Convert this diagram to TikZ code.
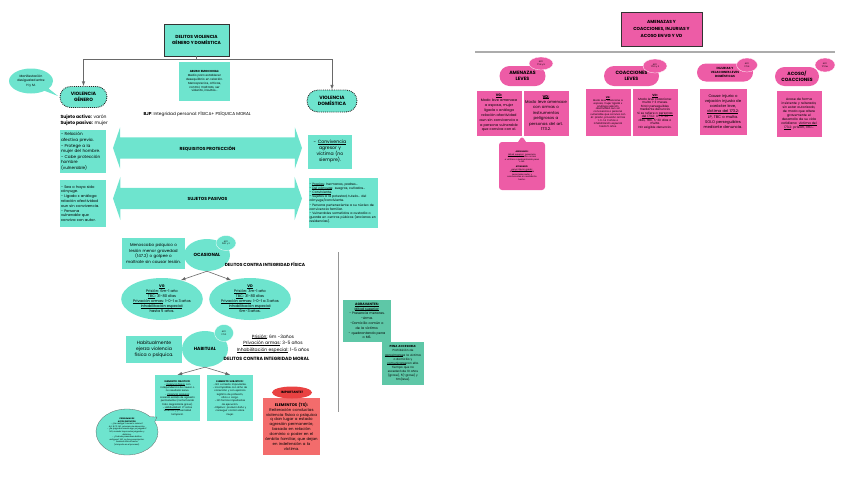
\documentclass[tikz,border=0pt]{standalone}
\usepackage{fontspec}
\setmainfont{Poppins}
\usetikzlibrary{shapes.geometric,shapes.arrows,shapes.callouts,shapes.misc,shadows}
\definecolor{turquesa}{RGB}{110,228,206}
\definecolor{verdeosc}{RGB}{94,199,167}
\definecolor{rosa}{RGB}{237,92,166}
\definecolor{rojo}{RGB}{243,108,108}
\definecolor{rojoosc}{RGB}{233,66,66}
\definecolor{gris}{RGB}{105,105,105}
\newcommand{\tam}[2]{\fontsize{#1}{#2}\selectfont}
% subrayado que funciona con letra muy pequena
\newcommand{\subr}[1]{\leavevmode\setbox0\hbox{#1}\rlap{\rule[-0.22ex]{\wd0}{0.06em}}\box0}

\begin{document}
\begin{tikzpicture}[x=1pt, y=-1pt,
  caja/.style={fill=turquesa, inner sep=1pt, align=center, text=black},
  cajarosa/.style={fill=rosa, draw=white, line width=0.3pt, inner sep=1pt, align=center, text=black},
  titulo/.style={draw=black!80, line width=0.9pt, align=center, font=\bfseries\tam{4.4}{6.7},
    drop shadow={shadow xshift=0.8pt, shadow yshift=-0.8pt, fill=black!80, opacity=1}},
  pastilla/.style={rounded rectangle, align=center, inner sep=0pt, font=\bfseries\tam{4.7}{6.2}},
  punteada/.style={pastilla, fill=turquesa, draw=black!85, line width=0.9pt, densely dotted},
  ovalo/.style={ellipse, fill=turquesa, inner sep=0pt, align=center},
  art/.style={ellipse, draw=white, line width=0.3pt, inner sep=0pt, align=center, font=\tam{2.1}{2.6}},
  flecha/.style={double arrow, fill=turquesa, double arrow tip angle=142,
    minimum height=189pt, inner ysep=8.5pt, text height=4pt, text depth=0pt, font=\bfseries\tam{4.4}{5}},
  flujo/.style={->, >=latex, gris, line width=0.6pt}]
\useasboundingbox (0,0) rectangle (848,496);

% violencia de genero y domestica
\node[caja, titulo, minimum width=65pt, minimum height=32pt] (delitos) at (196.5,40) {DELITOS VIOLENCIA\\GÉNERO Y DOMÉSTICA};
\coordinate (reparto) at (196.5,59);
\node[punteada, minimum width=47pt, minimum height=21pt] (vgen) at (83.5,97) {VIOLENCIA\\GÉNERO};
\node[punteada, minimum width=50pt, minimum height=22pt] (vdom) at (332,101) {VIOLENCIA\\DOMÉSTICA};
\draw[flujo, -] (delitos) -- (reparto);
\draw[flujo] (reparto) -| (vgen);
\draw[flujo] (reparto) -| (vdom);
\node[ellipse callout, fill=turquesa, callout absolute pointer={(58,96)}, minimum width=44pt, minimum height=25pt,
  inner sep=0pt, align=center, font=\tam{3.2}{4.2}] (manif) at (31,81) {Manifestación\\desigualad entre\\H y M.};
\node[anchor=west, align=left, font=\tam{4.5}{6}] (sujetos) at (57,120) {\textbf{Sujeto activo:} varón\\\textbf{Sujeto pasivo:} mujer};
\node[caja, text width=44pt, align=left, minimum height=43pt, font=\tam{4.2}{5.6}] (reqvg) at (83,151.5)
  {- Relación\\afectiva previa.\\- Protege a la\\mujer del hombre.\\- Cabe protección\\hombre\\(vulnerable)};
\node[caja, text width=44pt, align=left, minimum height=47pt, font=\tam{3.7}{4.8}] (pasvg) at (83,203.5)
  {- Sea o haya sido\\cónyuge.\\- Ligado x análoga\\relación afectividad\\aun sin convivencia.\\- Persona\\vulnerable que\\conviva con autor.};
\node[caja, text width=49pt, minimum height=39pt, font=\tam{2.9}{3.8}] (abuso) at (204.5,81.5)
  {\textbf{ABUSO EMOCIONAL:}\\Medio para establecer\\desequilibrio en relación.\\Menosprecios, críticas,\\control, maltrato, ser\\violento, insultos...};
\node[anchor=west, font=\tam{4.3}{5}] (bjp) at (140,114) {\textbf{BJP}: Integridad personal: FÍSICA+ PSÍQUICA MORAL};
\node[flecha, double arrow head extend=10pt] (requisitos) at (207.5,148) {REQUISITOS PROTECCIÓN};
\node[flecha, double arrow head extend=11pt] (pasivos) at (207.5,198.5) {SUJETOS PASIVOS};
\node[caja, text width=42pt, minimum height=34pt, font=\tam{4.6}{5.9}] (convivencia) at (330,151.5)
  {- \subr{Convivencia}\\agresor y\\víctima (no\\siempre).};
\node[caja, text width=67pt, align=left, minimum height=50pt, font=\tam{3.2}{4.2}] (pasvd) at (343,203)
  {- \subr{Propios}: hermanos, padres...\\- \subr{Del cónyuge}: suegros, cuñados...\\- \subr{Conviviente}.\\- Sujetos a la potestad, tutela... del\\cónyuge/conviviente.\\- Persona perteneciente a su núcleo de\\convivencia familiar.\\- Vulnerables sometidos a custodia o\\guarda en centros púbicos (ancianos en\\residencias).};

% ocasional
\node[caja, text width=61pt, minimum height=31pt, font=\tam{4.1}{5.6}] (menoscabo) at (153.5,253.5)
  {Menoscabo psíquico o\\lesión menor gravedad\\(147.2) o golpee o\\maltrate sin causar lesión.};
\node[ovalo, minimum width=46pt, minimum height=32pt, font=\bfseries\tam{4.5}{5}] (ocasional) at (207,255) {OCASIONAL};
\node[art, fill=turquesa, minimum width=20pt, minimum height=15pt] (artoc) at (226,243) {ART.\\153.1 y 2};
\node[font=\bfseries\tam{4.4}{5}] (fisica) at (265,264) {DELITOS CONTRA INTEGRIDAD FÍSICA};
\node[ovalo, minimum width=76pt, minimum height=42pt, font=\tam{3.7}{5}] (vgoc) at (162,299)
  {\textbf{\subr{VG}}\\\subr{Prisión}: 6m-1 año\\\subr{TBC}: 31-80 días\\\subr{Privación armas}: 1-0-1 a 3 años\\\subr{Inhabilitación especial}:\\hasta 5 años.};
\node[ovalo, minimum width=76pt, minimum height=42pt, font=\tam{3.7}{5}] (vdoc) at (250,299)
  {\textbf{\subr{VD}}\\\subr{Prisión}: 3m-1 año\\\subr{TBC}: 31-80 días\\\subr{Privación armas}: 1-0-1 a 3 años\\\subr{Inhabilitación especial}:\\6m-3 años.};
\draw[flujo] (ocasional.south) -- (vgoc.45);
\draw[flujo] (ocasional.south) -- (vdoc.135);

% habitual
\node[caja, text width=54pt, minimum height=27pt, font=\tam{4.6}{6.2}] (habitualmente) at (154,349.5)
  {Habitualmente\\ejerza violencia\\física o psíquica.};
\node[ovalo, minimum width=46pt, minimum height=36pt, font=\bfseries\tam{4.5}{5}] (habitual) at (205,349) {HABITUAL};
\node[art, fill=turquesa, minimum width=19pt, minimum height=17pt] (arthab) at (224,333) {ART.\\173.2};
\node[align=center, font=\tam{4.5}{6.6}] (penas) at (273,343.5)
  {\subr{Prisión}: 6m -3años\\\subr{Privación armas}: 3-5 años\\\subr{Inhabilitación especial}: 1-5 años};
\node[font=\bfseries\tam{4.6}{5}] (moral) at (266.5,359) {DELITOS CONTRA INTEGRIDAD MORAL};
\node[caja, text width=43pt, minimum height=46pt, font=\tam{2.4}{3.3}] (objetivo) at (177.5,398)
  {\textbf{ELEMENTO OBJETIVO:}\\- \subr{Violencia física}: con\\independencia de causar o\\no resultado lesivo.\\- \subr{Violencia psíquica}:\\creando estado de agresión\\permanente (conformando\\trato degradante grave).\\- \subr{Habitualidad}: 3º actos\\violentos y proximidad\\temporal.};
\node[caja, text width=44pt, minimum height=46pt, font=\tam{2.4}{3.3}] (subjetivo) at (230,398)
  {\textbf{ELEMENTO SUBJETIVO:}\\- NO comisión imprudente.\\- Incompatible con dcho de\\corrección y con ejercicio\\legítimo de profesión,\\oficio o cargo.\\- NO formas imperfectas\\de ejecución.\\-Objetivo: producir daño y\\conseguir control sobre\\mujer.};
\draw[flujo] (habitual.south) -- (objetivo.north);
\draw[flujo] (habitual.south) -- (subjetivo.north);
\node[ellipse callout, fill=turquesa, draw=black!60, line width=0.3pt, callout absolute pointer={(157,417)},
  minimum width=62pt, minimum height=46pt, inner sep=0pt, align=center, font=\tam{2}{2.6}] (problemas) at (127,432)
  {\textbf{PROBLEMAS DE}\\\textbf{AUTOS DISTINTOS:}\\- ¿Se castiga 2 veces lo mismo?\\Art. 8 CP: NO, principio de absorción.\\- ¿Se juzga dos veces algo ya juzgado?\\NO, cuando haya autos juzgados y\\distintos.\\- ¿Cuándo prescriben delitos\\antiguos? NO, no hay prescripción:\\hasta el último hecho\\(cómputo en el proceso).};
\node[fill=rojo, text width=55pt, align=center, minimum height=57pt, inner sep=1pt, font=\tam{3.9}{4.9}] (elementos) at (291.5,426.5)
  {\textbf{ELEMENTOS (TS):}\\Reiteración conductas\\violencia física o psíquica\\q dan lugar a estado\\agresión permanente,\\basado en relación\\dominio o poder en el\\ámbito familiar, que dejan\\en indefensión a la\\víctima.};
\node[ellipse, fill=rojoosc, minimum width=40pt, minimum height=12pt, inner sep=0pt, font=\bfseries\tam{3.2}{4}] (importante) at (292,392.5) {IMPORTANTE!};
\draw[gris!70, line width=0.8pt] (338,252) -- (338,412);
\node[fill=verdeosc, text width=46pt, minimum height=42pt, inner sep=1pt, align=center, font=\tam{3.3}{4.8}] (agravantes) at (367,321)
  {\textbf{\subr{AGRAVANTES:}}\\\subr{Mitad superior:}\\- Presencia menores.\\-Arma.\\-Domicilio común o\\de la víctima.\\- quebrantando pena\\o MS.};
\node[fill=verdeosc, text width=40pt, minimum height=43pt, inner sep=1pt, align=center, font=\tam{2.9}{4.1}] (pena) at (403,363.5)
  {\textbf{PENA ACCESORIA:}\\Prohibición de\\\subr{aproximarse} a la víctima\\o domicilio y\\\subr{comunicarse} con ella.\\Tiempo que no\\excederá de 10 años\\(grave), 5(-grave) y\\6m(leve).};

% amenazas, coacciones, injurias y acoso
\node[titulo, fill=rosa, minimum width=81pt, minimum height=34pt] (amenazas) at (661.5,29) {AMENAZAS Y\\COACCIONES, INJURIAS Y\\ACOSO EN VG Y VD};
\draw[gris!55, line width=1.6pt] (475,52) -- (835,52);
\node[pastilla, fill=rosa, minimum width=46pt, minimum height=20pt] (amen) at (522.5,76) {AMENAZAS\\LEVES};
\node[art, fill=rosa, minimum width=24pt, minimum height=13pt] (artamen) at (541,63.5) {ART.\\171.4 y 5};
\node[pastilla, fill=rosa, minimum width=55pt, minimum height=20pt] (coac) at (631.5,76) {COACCIONES\\LEVES};
\node[art, fill=rosa, minimum width=24pt, minimum height=14pt] (artcoac) at (655,66) {ART.\\172.2 y 3};
\node[pastilla, fill=rosa, minimum width=56pt, minimum height=18pt, font=\bfseries\tam{3}{3.6}] (inju) at (725,72.5) {INJURIAS Y\\VEJACIONES LEVES\\DOMÉSTICAS};
\node[art, fill=rosa, minimum width=21pt, minimum height=14pt] (artinju) at (747,65) {ART.\\173.4};
\node[pastilla, fill=rosa, minimum width=44pt, minimum height=19pt, font=\bfseries\tam{4.6}{6}] (acoso) at (797,76.5) {ACOSO/\\COACCIONES};
\node[art, fill=rosa, minimum width=20pt, minimum height=14pt] (artacoso) at (825,65) {ART.\\172 ter};
\node[cajarosa, text width=44pt, minimum height=46pt, font=\tam{3.5}{4.9}] (amenvg) at (499,113)
  {\textbf{\subr{VG:}}\\Modo leve amenace\\a esposa, mujer\\ligada x análoga\\relación afectividad\\aun sin convivencia o\\a persona vulnerable\\que conviva con el.};
\node[cajarosa, text width=44pt, minimum height=46pt, font=\tam{4}{5.4}] (amenvd) at (546,113)
  {\textbf{\subr{VD:}}\\Modo leve amenace\\con armas o\\instrumentos\\peligrosos a\\personas del art.\\173.2.};
\node[rectangle callout, fill=rosa, rounded corners=3pt, callout absolute pointer={(522,136)}, callout pointer width=8pt,
  text width=44pt, minimum height=48pt, inner sep=1pt, align=center, font=\tam{2.1}{2.5}] (agravado) at (522,166)
  {\textbf{AGRAVADO:}\\\subr{Mitad superior}: presencia\\menores, domicilio común\\o víctima o quebrantando pena\\o MS.\\[2.5pt]\textbf{ATENUADO:}\\\subr{pena inferior grado}:\\atender circunstancias\\personales autor y\\concurrentes en realización\\hecho.};
\node[cajarosa, text width=44pt, minimum height=48pt, font=\tam{2.5}{2.9}] (coacvg) at (608,112)
  {\textbf{\subr{VG:}}\\Modo leve coaccione a\\esposa, mujer ligada x\\análoga relación\\afectividad aun sin\\convivencia o persona\\vulnerable que conviva con\\él: prisión, privación armas\\1-0-1 a 3 años o\\inhabilitación especial\\hasta 5 años.};
\node[cajarosa, text width=44pt, minimum height=48pt, font=\tam{3}{3.5}] (coacvd) at (655,112)
  {\textbf{\subr{VD:}}\\Modo leve coaccione:\\multa 1-3 meses.\\SOLO perseguibles\\mediante denuncia.\\Si se refiere a \subr{personas}\\\subr{del 173.2}: LP, 5-30\\días, TBC, 5-30 días o\\multa.\\NO exigible denuncia.};
\node[cajarosa, text width=46pt, minimum height=47pt, font=\tam{3.8}{5.1}] (injbox) at (723,111.5)
  {Cause injuria o\\vejación injusta de\\carácter leve,\\\subr{víctima del 173.2}:\\LP, TBC o multa.\\SOLO perseguibles\\mediante denuncia.};
\node[cajarosa, text width=44pt, minimum height=47pt, font=\tam{3.2}{4}] (acobox) at (799,113.5)
  {Acose de forma\\insistente y reiterada,\\sin estar autorizado,\\de modo que altere\\gravemente el\\desarrollo de su vida\\cotidiana: \subr{víctima del}\\\subr{173.2}: prisión, TBC...};
\end{tikzpicture}
\end{document}
